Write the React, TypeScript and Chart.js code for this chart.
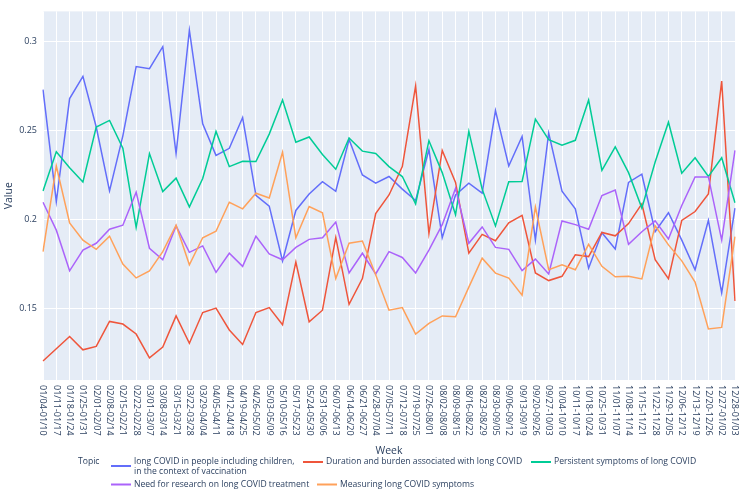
import React, { useEffect, useRef } from 'react';
import { Chart, registerables } from 'chart.js';

Chart.register(...registerables);

const weeks = [
  '01/04-01/10', '01/11-01/17', '01/18-01/24', '01/25-01/31', '02/01-02/07', '02/08-02/14',
  '02/15-02/21', '02/22-02/28', '03/01-03/07', '03/08-03/14', '03/15-03/21', '03/22-03/28',
  '03/29-04/04', '04/05-04/11', '04/12-04/18', '04/19-04/25', '04/26-05/02', '05/03-05/09',
  '05/10-05/16', '05/17-05/23', '05/24-05/30', '05/31-06/06', '06/07-06/13', '06/14-06/20',
  '06/21-06/27', '06/28-07/04', '07/05-07/11', '07/12-07/18', '07/19-07/25', '07/26-08/01',
  '08/02-08/08', '08/09-08/15', '08/16-08/22', '08/23-08/29', '08/30-09/05', '09/06-09/12',
  '09/13-09/19', '09/20-09/26', '09/27-10/03', '10/04-10/10', '10/11-10/17', '10/18-10/24',
  '10/25-10/31', '11/01-11/07', '11/08-11/14', '11/15-11/21', '11/22-11/28', '11/29-12/05',
  '12/06-12/12', '12/13-12/19', '12/20-12/26', '12/27-01/02', '12/28-01/03',
];

const longCovidChildren = [
  0.273, 0.210, 0.268, 0.2805, 0.252, 0.216, 0.247, 0.286, 0.2848, 0.2972, 0.237, 0.3065,
  0.2538, 0.236, 0.24, 0.2573, 0.2135, 0.2074, 0.1766, 0.205, 0.2143, 0.2212, 0.2158, 0.2449,
  0.225, 0.2204, 0.2241, 0.217, 0.2106, 0.2393, 0.1896, 0.2137, 0.2204, 0.2148, 0.2612, 0.23,
  0.2467, 0.1883, 0.2486, 0.2158, 0.2059, 0.1725, 0.1924, 0.1833, 0.2208, 0.2254, 0.193, 0.2037,
  0.1883, 0.1716, 0.1994, 0.1586, 0.2063,
];

const durationBurden = [
  0.1202, 0.1271, 0.134, 0.1265, 0.1284, 0.1425, 0.141, 0.1354, 0.122, 0.128, 0.1456, 0.1302,
  0.1475, 0.15, 0.1377, 0.1295, 0.1475, 0.1503, 0.1406, 0.1759, 0.1423, 0.1488, 0.1898, 0.1521,
  0.1666, 0.2032, 0.2137, 0.2297, 0.2751, 0.192, 0.2388, 0.2208, 0.1809, 0.1915, 0.1879, 0.198,
  0.2022, 0.1698, 0.1655, 0.1679, 0.18, 0.179, 0.1926, 0.1907, 0.1976, 0.2087, 0.1772, 0.1666,
  0.1994, 0.2044, 0.2143, 0.2779, 0.154,
];

const persistentSymptoms = [
  0.216, 0.238, 0.229, 0.221, 0.252, 0.2557, 0.24, 0.1954, 0.237, 0.2156, 0.2232, 0.207,
  0.223, 0.2495, 0.2297, 0.2327, 0.2325, 0.248, 0.2672, 0.2434, 0.2464, 0.2365, 0.2282, 0.2458,
  0.2384, 0.2371, 0.2297, 0.2241, 0.2087, 0.2443, 0.2263, 0.2026, 0.2495, 0.217, 0.1963, 0.2212,
  0.2213, 0.2564, 0.2449, 0.2417, 0.2445, 0.2672, 0.2276, 0.2408, 0.2263, 0.2063, 0.2323, 0.2547,
  0.226, 0.2347, 0.2241, 0.2347, 0.2093,
];

const researchTreatment = [
  0.2096, 0.1939, 0.171, 0.1827, 0.1865, 0.1944, 0.1967, 0.2152, 0.1837, 0.1772, 0.1963, 0.1814,
  0.185, 0.1701, 0.1809, 0.1735, 0.1905, 0.1805, 0.1772, 0.1842, 0.1887, 0.1896, 0.1985, 0.1698,
  0.1809, 0.1692, 0.1818, 0.1785, 0.1698, 0.1827, 0.197, 0.2174, 0.1865, 0.1957, 0.1842, 0.1831,
  0.1711, 0.1776, 0.1692, 0.1991, 0.197, 0.1944, 0.2134, 0.2165, 0.1859, 0.193, 0.1991, 0.1889,
  0.2078, 0.2239, 0.2239, 0.1883, 0.2388,
];

const measuringSymptoms = [
  0.1818, 0.230, 0.198, 0.1883, 0.1831, 0.1905, 0.1748, 0.167, 0.171, 0.1818, 0.1967, 0.1744,
  0.1896, 0.1933, 0.2096, 0.2059, 0.2147, 0.212, 0.2378, 0.1896, 0.2072, 0.2037, 0.1666, 0.1865,
  0.1878, 0.1688, 0.1488, 0.1503, 0.1354, 0.1414, 0.1456, 0.1451, 0.1618, 0.1781, 0.1697, 0.1669,
  0.1573, 0.2069, 0.1716, 0.1744, 0.1716, 0.1859, 0.1735, 0.1676, 0.1679, 0.1664, 0.1963, 0.1856,
  0.1766, 0.1646, 0.1382, 0.1391, 0.1902,
];

const topicNames = [
  'long COVID in people including children,\nin the context of vaccination',
  'Duration and burden associated with long COVID',
  'Persistent symptoms of long COVID',
  'Need for research on long COVID treatment',
  'Measuring long COVID symptoms',
];

const topicColors = ['#636efa', '#EF553B', '#00cc96', '#ab63fa', '#FFA15A'];

const yTicks = [0.15, 0.2, 0.25, 0.3];
const yTickLabels = ['0.15', '0.2', '0.25', '0.3'];

const FONT = '"Open Sans", verdana, arial, sans-serif';
const TEXT = '#2a3f5f';

export default function App() {
  const ref = useRef<HTMLCanvasElement>(null);

  useEffect(() => {
    const canvas = ref.current;
    if (!canvas) return;
    const seriesValues = [
      longCovidChildren,
      durationBurden,
      persistentSymptoms,
      researchTreatment,
      measuringSymptoms,
    ];

    const bgPlugin = {
      id: 'plotBg',
      beforeDraw(chart: any) {
        const { ctx, chartArea: a } = chart;
        ctx.save();
        ctx.fillStyle = '#E5ECF6';
        ctx.fillRect(a.left, a.top, a.right - a.left, a.bottom - a.top);
        ctx.restore();
      },
    };

    const xLabelPlugin = {
      id: 'xLabels',
      afterDraw(chart: any) {
        const { ctx, chartArea } = chart;
        const sx = chart.scales.x;
        ctx.save();
        ctx.font = `9px ${FONT}`;
        ctx.fillStyle = TEXT;
        ctx.textAlign = 'left';
        ctx.textBaseline = 'middle';
        weeks.forEach((w, i) => {
          const x = sx.getPixelForTick(i);
          ctx.save();
          ctx.translate(x, chartArea.bottom + 5);
          ctx.rotate(Math.PI / 2);
          ctx.fillText(w, 0, 0);
          ctx.restore();
        });
        ctx.restore();
      },
    };

    // legend layout: [series index, sample start x, row]
    const legendSlots = [
      [0, 111, 0],
      [1, 303, 0],
      [2, 531, 0],
      [3, 111, 1],
      [4, 317, 1],
    ];

    const legendPlugin = {
      id: 'customLegend',
      afterDraw(chart: any) {
        const ctx = chart.ctx;
        ctx.save();
        ctx.font = `8.6px ${FONT}`;
        ctx.fillStyle = TEXT;
        ctx.textBaseline = 'middle';
        ctx.textAlign = 'left';
        const rowY = [462, 484.5];
        ctx.fillText('Topic', 78, rowY[0]);
        legendSlots.forEach(([si, x, r]) => {
          const lines = topicNames[si].split('\n');
          const lineGap = 10;
          const sampleY = rowY[r] + ((lines.length - 1) * lineGap) / 2 - (lines.length > 1 ? 1 : 0);
          ctx.strokeStyle = topicColors[si];
          ctx.lineWidth = 2;
          ctx.beginPath();
          ctx.moveTo(x, sampleY);
          ctx.lineTo(x + 20, sampleY);
          ctx.stroke();
          ctx.fillStyle = TEXT;
          lines.forEach((l, k) => ctx.fillText(l, x + 23, rowY[r] + k * lineGap));
        });
        ctx.restore();
      },
    };

    const chart = new Chart(canvas, {
      type: 'line',
      data: {
        labels: weeks,
        datasets: seriesValues.map((vals, i) => ({
          label: topicNames[i].replace('\n', ' '),
          data: vals,
          borderColor: topicColors[i],
          backgroundColor: topicColors[i],
          borderWidth: 1.5,
          pointRadius: 0,
          tension: 0,
          fill: false,
          order: 4 - i,
        })),
      },
      options: {
        responsive: false,
        animation: false,
        layout: { padding: { left: 0, top: 7, right: 13, bottom: 38 } },
        plugins: {
          legend: { display: false },
          tooltip: { enabled: false },
        },
        scales: {
          x: {
            type: 'category',
            offset: false,
            grid: { color: '#ffffff', lineWidth: 1, drawTicks: false },
            border: { display: false },
            ticks: { display: false, autoSkip: false },
            title: {
              display: true,
              text: 'Week',
              color: TEXT,
              font: { family: FONT, size: 10.5 },
              padding: { top: 0, bottom: 0 },
            },
            afterFit(scale: any) {
              scale.height = 77;
            },
          },
          y: {
            type: 'linear',
            min: 0.1095,
            max: 0.3171,
            grid: { color: '#ffffff', lineWidth: 1, drawTicks: false },
            border: { display: false },
            ticks: {
              color: TEXT,
              font: { family: FONT, size: 9 },
              padding: 6,
              callback: (v: any) => {
                const idx = yTicks.indexOf(v);
                return idx >= 0 ? yTickLabels[idx] : '';
              },
            },
            afterBuildTicks(scale: any) {
              scale.ticks = yTicks.map((v) => ({ value: v }));
            },
            title: {
              display: true,
              text: 'Value',
              color: TEXT,
              font: { family: FONT, size: 10.5 },
              padding: { top: 3, bottom: 0 },
            },
            afterFit(scale: any) {
              scale.width = 43;
            },
          },
        },
      },
      plugins: [bgPlugin, xLabelPlugin, legendPlugin],
    });

    return () => chart.destroy();
  }, []);

  return (
    <div style={{ position: 'fixed', left: 0, top: 0, width: 748, height: 495, background: '#ffffff' }}>
      <canvas ref={ref} width={748} height={495} style={{ width: 748, height: 495, display: 'block' }} />
    </div>
  );
}
